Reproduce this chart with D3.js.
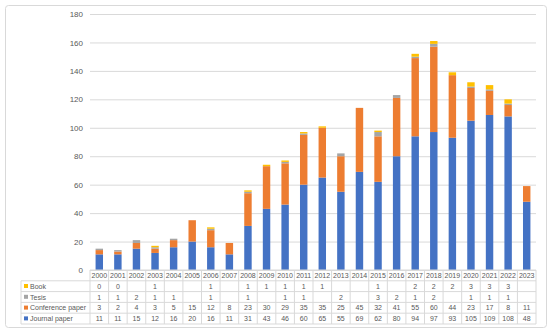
<!DOCTYPE html>
<html>
<head>
<meta charset="utf-8">
<script src="https://cdn.jsdelivr.net/npm/d3@7"></script>
<style>
  body { margin: 0; background: #fff; }
  svg { display: block; font-family: "Liberation Sans", "DejaVu Sans", sans-serif; }
</style>
</head>
<body>
<script>
'use strict';

// chart data
const years = ["2000","2001","2002","2003","2004","2005","2006","2007","2008","2009","2010","2011",
  "2012","2013","2014","2015","2016","2017","2018","2019","2020","2021","2022","2023"];
const journal = [11,11,15,12,16,20,16,11,31,43,46,60,65,55,69,62,80,94,97,93,105,109,108,48];
const conference = [3,2,4,3,5,15,12,8,23,30,29,35,35,25,45,32,41,55,60,44,23,17,8,11];
const tesis = [1,1,2,1,1,null,1,null,1,null,1,1,null,2,null,3,2,1,2,null,1,1,1,null];
const book = [0,0,null,1,null,null,1,null,1,1,1,1,1,null,null,1,null,2,2,2,3,3,3,null];
const yTicks = [0,20,40,60,80,100,120,140,160,180];

(function() {

  // series, bottom of the stack first
  const series = [
    { name: "Journal paper", values: journal, color: "#4472C4" },
    { name: "Conference paper", values: conference, color: "#ED7D31" },
    { name: "Tesis", values: tesis, color: "#A5A5A5" },
    { name: "Book", values: book, color: "#FFC000" }
  ];

  const W = 550, H = 333;
  const left = 90, right = 536, plotTop = 14, base = 270;

  const svg = d3.select('body').append('svg')
    .attr('width', W)
    .attr('height', H);

  // outer frame
  svg.append('rect')
    .attr('x', 5.5).attr('y', 5.5)
    .attr('width', 541).attr('height', 322)
    .attr('rx', 3)
    .attr('fill', '#fff')
    .attr('stroke', '#d9d9d9');

  const x = d3.scaleBand()
    .domain(years)
    .range([left, right])
    .paddingInner(0.6)
    .paddingOuter(0.3);

  const y = d3.scaleLinear()
    .domain([0, 180])
    .range([base, plotTop]);

  // gridlines and y labels
  const yAxis = svg.append('g')
    .attr('transform', `translate(${left},0)`)
    .call(d3.axisLeft(y).tickValues(yTicks).tickSize(-(right - left)).tickPadding(7));
  yAxis.select('.domain').remove();
  yAxis.selectAll('line').attr('stroke', '#d9d9d9');
  yAxis.selectAll('text')
    .attr('fill', '#595959')
    .style('font-size', '8px');

  // stacked bars
  const rows = years.map((yr, i) => {
    const r = { year: yr };
    series.forEach(s => { r[s.name] = s.values[i] || 0; });
    return r;
  });
  const stack = d3.stack().keys(series.map(s => s.name))(rows);

  svg.append('g').selectAll('g')
    .data(stack)
    .join('g')
    .attr('fill', (d, i) => series[i].color)
    .selectAll('rect')
    .data(d => d)
    .join('rect')
    .attr('x', d => x(d.data.year))
    .attr('width', x.bandwidth())
    .attr('y', d => y(d[1]))
    .attr('height', d => y(d[0]) - y(d[1]));

  // data table under the axis
  const colW = (right - left) / years.length;
  const tableLeft = 21;
  const rowH = 10.8;
  const fs = '7px';
  const tableRows = series.slice().reverse(); // Book on top
  const grid = svg.append('g').attr('stroke', '#d9d9d9').attr('fill', 'none');

  years.forEach((yr, i) => {
    grid.append('line')
      .attr('x1', left + i * colW).attr('x2', left + i * colW)
      .attr('y1', base).attr('y2', base + rowH * 5);
  });
  grid.append('line')
    .attr('x1', right).attr('x2', right)
    .attr('y1', base).attr('y2', base + rowH * 5);
  grid.append('line')
    .attr('x1', tableLeft).attr('x2', tableLeft)
    .attr('y1', base + rowH).attr('y2', base + rowH * 5);
  for (let r = 1; r <= 5; r++) {
    grid.append('line')
      .attr('x1', tableLeft).attr('x2', right)
      .attr('y1', base + rowH * r).attr('y2', base + rowH * r);
  }
  // axis line at the base
  svg.append('line')
    .attr('x1', left).attr('x2', right)
    .attr('y1', base).attr('y2', base)
    .attr('stroke', '#d9d9d9');

  svg.append('g').selectAll('text')
    .data(years)
    .join('text')
    .attr('x', (d, i) => left + (i + 0.5) * colW)
    .attr('y', base + rowH / 2 + 2.5)
    .attr('text-anchor', 'middle')
    .attr('fill', '#595959')
    .style('font-size', fs)
    .text(d => d);

  tableRows.forEach((s, r) => {
    const cy = base + rowH * (r + 1) + rowH / 2;
    svg.append('rect')
      .attr('x', tableLeft + 3).attr('y', cy - 2.2)
      .attr('width', 4).attr('height', 4)
      .attr('fill', s.color);
    svg.append('text')
      .attr('x', tableLeft + 9).attr('y', cy + 2.5)
      .attr('fill', '#595959')
      .style('font-size', fs)
      .text(s.name);
    svg.append('g').selectAll('text')
      .data(s.values)
      .join('text')
      .attr('x', (d, i) => left + (i + 0.5) * colW)
      .attr('y', cy + 2.5)
      .attr('text-anchor', 'middle')
      .attr('fill', '#595959')
      .style('font-size', fs)
      .text(d => d === null ? '' : d);
  });

})();
</script>
</body>
</html>
